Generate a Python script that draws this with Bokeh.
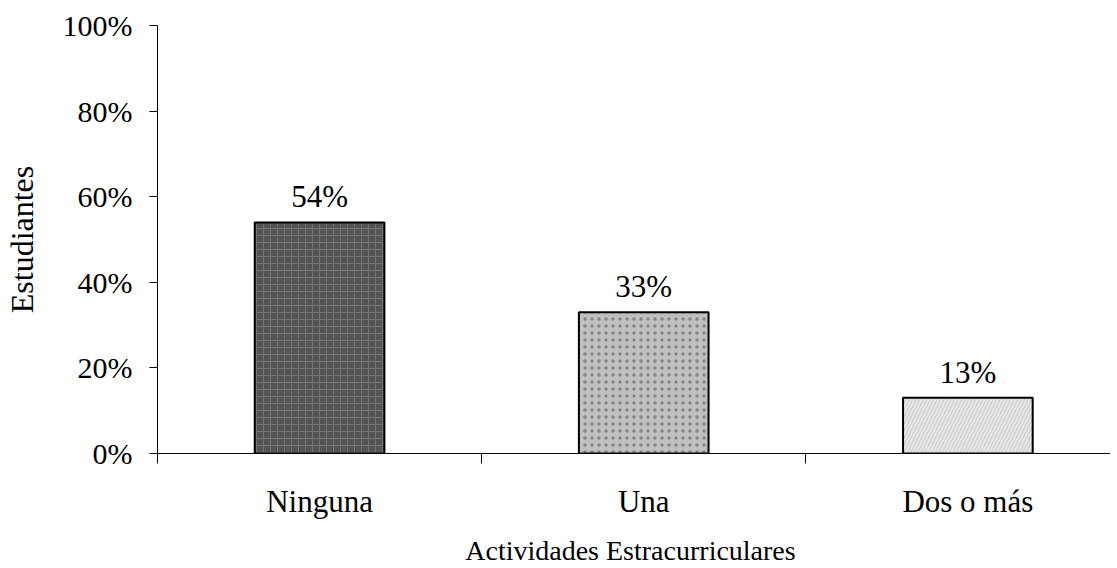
from bokeh.plotting import figure
from bokeh.models import ColumnDataSource, FixedTicker, LabelSet, Range1d
from bokeh.embed import file_html
from bokeh.resources import INLINE

categories = ["Ninguna", "Una", "Dos o más"]
values = [54, 33, 13]
value_labels = ["54%", "33%", "13%"]
y_ticks = [0, 20, 40, 60, 80, 100]
y_tick_labels = ["0%", "20%", "40%", "60%", "80%", "100%"]
x_title = "Actividades  Estracurriculares"
y_title = "Estudiantes"

fills = ["#545454", "#c0c0c0", "#e4e4e6"]
hatches = ["+", ".", "/"]
hatch_colors = ["#737373", "#858585", "#cfcfd2"]

FONT = "Liberation Serif"

xs = [i + 0.5 for i in range(len(categories))]
source = ColumnDataSource(dict(x=xs, top=values, lab=value_labels,
                               fill=fills, hatch=hatches, hcol=hatch_colors))

p = figure(width=1110, height=568, output_backend="svg", toolbar_location=None,
           x_range=Range1d(0, 2.94), y_range=Range1d(0, 100),
           min_border_left=156, min_border_right=0, min_border_top=25,
           min_border_bottom=110)
p.outline_line_color = None
p.xgrid.visible = False
p.ygrid.visible = False

p.vbar(x="x", top="top", bottom=0, width=0.4, source=source,
       fill_color="fill", line_color="black", line_width=2,
       hatch_pattern="hatch", hatch_color="hcol", hatch_scale=7, hatch_weight=1)

labels = LabelSet(x="x", y="top", text="lab", source=source, text_align="center",
                  text_baseline="bottom", y_offset=8, text_font=FONT,
                  text_font_size="31px", text_color="black")
p.add_layout(labels)

# x axis
p.xaxis.ticker = FixedTicker(ticks=xs, minor_ticks=[0, 1, 2, 3])
p.xaxis.major_label_overrides = {x: c for x, c in zip(xs, categories)}
p.xaxis.major_tick_out = 0
p.xaxis.major_tick_in = 0
p.xaxis.minor_tick_out = 10
p.xaxis.minor_tick_in = 0
p.xaxis.minor_tick_line_color = "black"
p.xaxis.axis_line_color = "black"
p.xaxis.major_label_standoff = 20
p.xaxis.major_label_text_font = FONT
p.xaxis.major_label_text_font_size = "31px"
p.xaxis.major_label_text_color = "black"
p.xaxis.axis_label = x_title
p.xaxis.axis_label_text_font = FONT
p.xaxis.axis_label_text_font_size = "28px"
p.xaxis.axis_label_text_font_style = "normal"
p.xaxis.axis_label_text_color = "black"
p.xaxis.axis_label_standoff = 13

# y axis
p.yaxis.ticker = FixedTicker(ticks=y_ticks, minor_ticks=[])
p.yaxis.major_label_overrides = {t: l for t, l in zip(y_ticks, y_tick_labels)}
p.yaxis.major_tick_out = 8
p.yaxis.major_tick_in = 0
p.yaxis.major_tick_line_color = "black"
p.yaxis.axis_line_color = "black"
p.yaxis.major_label_standoff = 17
p.yaxis.major_label_text_font = FONT
p.yaxis.major_label_text_font_size = "30px"
p.yaxis.major_label_text_color = "black"
p.yaxis.axis_label = y_title
p.yaxis.axis_label_text_font = FONT
p.yaxis.axis_label_text_font_size = "32px"
p.yaxis.axis_label_text_font_style = "normal"
p.yaxis.axis_label_text_color = "black"
p.yaxis.axis_label_standoff = 20

open("out.html", "w").write(file_html(p, INLINE))
